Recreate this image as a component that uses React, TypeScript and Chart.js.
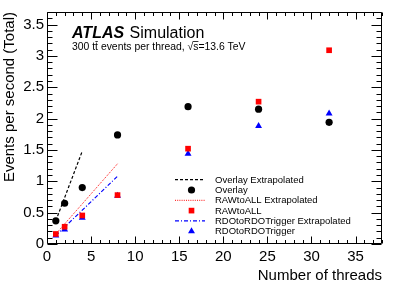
import { useEffect, useRef } from 'react';
import { Chart, registerables } from 'chart.js';

Chart.register(...registerables);

const FONT = '"Liberation Sans", Arial, Helvetica, sans-serif';

// Measured points
const threads = [1, 2, 4, 8, 16, 24, 32];
const overlay = [0.37, 0.65, 0.9, 1.74, 2.19, 2.15, 1.94];
const rawToAll = [0.16, 0.275, 0.455, 0.78, 1.52, 2.27, 3.09];
const rdoToRdoTrigger = [0.135, 0.23, 0.42, 0.77, 1.44, 1.88, 2.08];

// Linear extrapolations from the single-thread value
const overlayExtrapX = [1, 4];
const overlayExtrapY = [0.37, 1.48];
const rawExtrapX = [1, 8];
const rawExtrapY = [0.16, 1.28];
const rdoExtrapX = [1, 8];
const rdoExtrapY = [0.135, 1.08];

const legendLabels = [
  'Overlay Extrapolated',
  'Overlay',
  'RAWtoALL Extrapolated',
  'RAWtoALL',
  'RDOtoRDOTrigger Extrapolated',
  'RDOtoRDOTrigger',
];

const xMin = 0;
const xMax = 38;
const yMin = 0;
const yMax = 3.7;

const toXY = (xs: number[], ys: number[]) => xs.map((x, i) => ({ x, y: ys[i] }));

const framePlugin = {
  id: 'rootFrame',
  afterDatasetsDraw(chart: any) {
    const { ctx, chartArea } = chart;
    const xs = chart.scales.x;
    const ys = chart.scales.y;
    const L = Math.round(chartArea.left) + 0.5;
    const R = Math.round(chartArea.right) - 0.5;
    const T = Math.round(chartArea.top) + 0.5;
    const B = Math.round(chartArea.bottom) - 0.5;
    ctx.save();
    ctx.strokeStyle = '#000';
    ctx.lineWidth = 1;
    ctx.beginPath();
    ctx.rect(L, T, R - L, B - T);
    ctx.stroke();
    ctx.beginPath();
    for (let v = xMin; v <= xMax; v++) {
      const px = Math.round(xs.getPixelForValue(v)) + 0.5;
      const len = v % 5 === 0 ? 7 : 3.5;
      ctx.moveTo(px, B);
      ctx.lineTo(px, B - len);
      ctx.moveTo(px, T);
      ctx.lineTo(px, T + len);
    }
    for (let i = 0; i <= Math.round(yMax * 10); i++) {
      const py = Math.round(ys.getPixelForValue(i / 10)) + 0.5;
      const len = i % 5 === 0 ? 10 : 5;
      ctx.moveTo(L, py);
      ctx.lineTo(L + len, py);
      ctx.moveTo(R, py);
      ctx.lineTo(R - len, py);
    }
    ctx.stroke();
    ctx.restore();
  },
};

function drawMarker(ctx: CanvasRenderingContext2D, style: string, x: number, y: number, r: number, color: string) {
  ctx.fillStyle = color;
  ctx.beginPath();
  if (style === 'circle') {
    ctx.arc(x, y, r, 0, Math.PI * 2);
  } else if (style === 'rect') {
    const s = r * Math.SQRT2;
    ctx.rect(x - s / 2, y - s / 2, s, s);
  } else {
    const h = r * 1.5;
    const w = r * Math.sqrt(3);
    ctx.moveTo(x, y - r);
    ctx.lineTo(x + w / 2, y - r + h);
    ctx.lineTo(x - w / 2, y - r + h);
    ctx.closePath();
  }
  ctx.fill();
}

const annotationPlugin = {
  id: 'atlasAnnotations',
  afterDraw(chart: any) {
    const { ctx } = chart;
    ctx.save();
    // ATLAS label
    ctx.fillStyle = '#000';
    ctx.textBaseline = 'alphabetic';
    ctx.textAlign = 'left';
    ctx.font = `italic bold 16px ${FONT}`;
    const x0 = 72;
    ctx.fillText('ATLAS', x0, 38);
    const wAtlas = ctx.measureText('ATLAS ').width;
    ctx.font = `16px ${FONT}`;
    ctx.fillText('Simulation', x0 + wAtlas + 1, 38);

    ctx.font = `10.4px ${FONT}`;
    const part1 = '300 t';
    const part2 = 't';
    const part3 = ' events per thread, ';
    const by = 50;
    let cx = x0;
    ctx.fillText(part1, cx, by);
    cx += ctx.measureText(part1).width;
    ctx.fillText(part2, cx, by);
    const wt = ctx.measureText(part2).width;
    ctx.strokeStyle = '#000';
    ctx.lineWidth = 0.8;
    ctx.beginPath();
    ctx.moveTo(cx + 0.3, by - 8.5);
    ctx.lineTo(cx + wt - 0.2, by - 8.5);
    ctx.stroke();
    cx += wt;
    ctx.fillText(part3, cx, by);
    cx += ctx.measureText(part3).width;
    ctx.fillText('\u221A', cx, by);
    cx += ctx.measureText('\u221A').width;
    ctx.fillText('s', cx, by);
    const ws = ctx.measureText('s').width;
    ctx.beginPath();
    ctx.moveTo(cx - 0.5, by - 8.5);
    ctx.lineTo(cx + ws, by - 8.5);
    ctx.stroke();
    cx += ws;
    ctx.fillText('=13.6 TeV', cx, by);

    // Legend
    const datasets = chart.data.datasets;
    ctx.font = `9.5px ${FONT}`;
    ctx.textBaseline = 'middle';
    for (let i = 0; i < datasets.length; i++) {
      const ds = datasets[i];
      const y = 179.7 + i * 10.3;
      if (ds.showLine) {
        ctx.save();
        ctx.strokeStyle = ds.borderColor;
        ctx.lineWidth = ds.borderWidth;
        ctx.setLineDash(ds.borderDash || []);
        ctx.beginPath();
        ctx.moveTo(175, y);
        ctx.lineTo(205, y);
        ctx.stroke();
        ctx.restore();
      } else {
        drawMarker(ctx, ds.pointStyle, 191.5, y, ds.pointRadius, ds.backgroundColor);
      }
      ctx.fillStyle = '#000';
      ctx.fillText(ds.label, 215, y + 0.5);
    }
    ctx.restore();
  },
};

export default function App() {
  const canvasRef = useRef<HTMLCanvasElement | null>(null);

  useEffect(() => {
    if (!canvasRef.current) return;
    const lineDs = (label: string, xs: number[], ys: number[], color: string, dash: number[], width: number) => ({
      type: 'line' as const,
      label,
      data: toXY(xs, ys),
      showLine: true,
      borderColor: color,
      backgroundColor: color,
      borderWidth: width,
      borderDash: dash,
      pointRadius: 0,
      pointHoverRadius: 0,
      fill: false,
      tension: 0,
      order: 2,
    });
    const pointDs = (label: string, ys: number[], color: string, style: string, r: number) => ({
      type: 'scatter' as const,
      label,
      data: toXY(threads, ys),
      showLine: false,
      pointStyle: style,
      pointRadius: r,
      pointHoverRadius: r,
      backgroundColor: color,
      borderColor: color,
      borderWidth: 0,
      order: 1,
    });

    const chart = new Chart(canvasRef.current, {
      type: 'scatter',
      data: {
        datasets: [
          lineDs(legendLabels[0], overlayExtrapX, overlayExtrapY, '#000000', [3, 2], 1.2),
          pointDs(legendLabels[1], overlay, '#000000', 'circle', 3.6),
          lineDs(legendLabels[2], rawExtrapX, rawExtrapY, '#ff0000', [1, 1.2], 1),
          pointDs(legendLabels[3], rawToAll, '#ff0000', 'rect', 4),
          lineDs(legendLabels[4], rdoExtrapX, rdoExtrapY, '#0000ff', [4, 2, 1, 2], 1.2),
          pointDs(legendLabels[5], rdoToRdoTrigger, '#0000ff', 'triangle', 4),
        ] as any,
      },
      options: {
        animation: false,
        responsive: false,
        maintainAspectRatio: false,
        devicePixelRatio: 1,
        layout: { padding: { left: 0, right: 17, top: 6, bottom: 0 } },
        plugins: {
          legend: { display: false },
          tooltip: { enabled: false },
        },
        events: [],
        scales: {
          x: {
            type: 'linear',
            min: xMin,
            max: xMax,
            grid: { display: false, drawTicks: false },
            border: { display: false },
            ticks: {
              stepSize: 5,
              includeBounds: false,
              autoSkip: false,
              maxRotation: 0,
              color: '#000',
              padding: 4,
              font: { family: FONT, size: 15 },
              callback: (v: any) => String(Math.round(Number(v) * 100) / 100),
            },
            title: {
              display: true,
              text: 'Number of threads',
              align: 'end',
              color: '#000',
              font: { family: FONT, size: 15 },
              padding: { top: 0, bottom: 1 },
            },
            afterFit(scale: any) {
              scale.height = 42;
            },
          },
          y: {
            type: 'linear',
            min: yMin,
            max: yMax,
            grid: { display: false, drawTicks: false },
            border: { display: false },
            ticks: {
              stepSize: 0.5,
              includeBounds: false,
              autoSkip: false,
              color: '#000',
              padding: 3,
              font: { family: FONT, size: 15 },
              callback: (v: any) => String(Math.round(Number(v) * 100) / 100),
            },
            title: {
              display: true,
              text: 'Events per second (Total)',
              align: 'end',
              color: '#000',
              font: { family: FONT, size: 15 },
              padding: { top: 1, bottom: 0 },
            },
            afterFit(scale: any) {
              scale.width = 47;
            },
          },
        },
      } as any,
      plugins: [framePlugin, annotationPlugin],
    });
    return () => chart.destroy();
  }, []);

  return (
    <div style={{ position: 'fixed', left: 0, top: 0, width: 399, height: 286, background: '#fff' }}>
      <canvas ref={canvasRef} width={399} height={286} style={{ width: 399, height: 286, display: 'block' }} />
    </div>
  );
}
